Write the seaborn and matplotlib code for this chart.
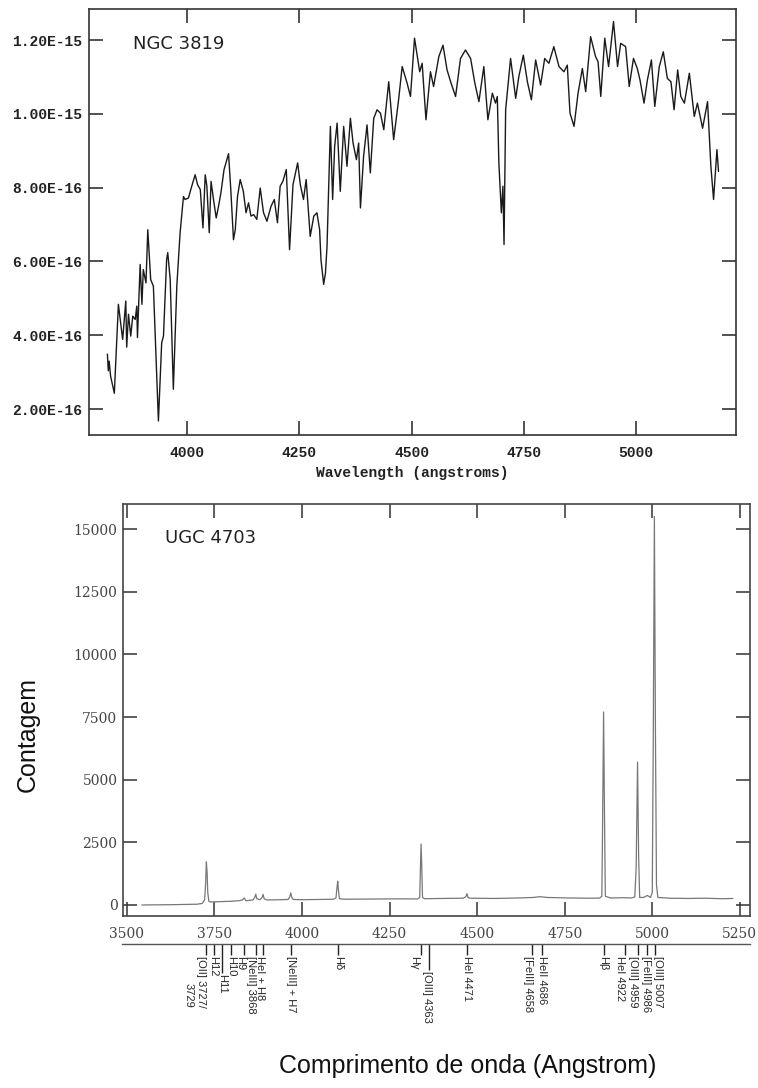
import numpy as np
import pandas as pd
import matplotlib
matplotlib.use('Agg')
import matplotlib.pyplot as plt
from matplotlib.ticker import FuncFormatter
import seaborn as sns

# --- data: NGC 3819 (flux in units of 1e-16) ---
ngc_wave = [3822, 3824, 3826, 3829, 3837.5, 3846.5, 3856, 3863, 3865, 3869, 3874, 3878.5,
            3884, 3887.5, 3889, 3895, 3899, 3902, 3908, 3912, 3918.5, 3924.5, 3935.7, 3943,
            3947, 3954, 3956.5, 3962, 3969, 3976.7, 3984, 3991.5, 3995, 4002.6, 4010, 4017.6,
            4023, 4029, 4035, 4040, 4043.7, 4049, 4053, 4058.5, 4064.5, 4069.6, 4075, 4082,
            4092, 4097, 4103, 4107, 4112, 4118, 4125, 4131, 4136.6, 4142, 4148, 4155, 4162.6,
            4170, 4177.6, 4186.5, 4194, 4201, 4207, 4213, 4220.7, 4228, 4235.6, 4246, 4252,
            4259, 4265, 4274, 4282, 4289, 4295, 4298, 4304, 4308, 4311.5, 4319, 4324, 4328.5,
            4334, 4341, 4348.6, 4356, 4363.6, 4369.5, 4377, 4382, 4386, 4393, 4400.7, 4408,
            4415.6, 4423, 4430.5, 4438, 4449, 4460, 4471, 4479, 4490, 4497.5, 4506.5, 4518,
            4523.5, 4532, 4542, 4549, 4560.7, 4570, 4579, 4588, 4598, 4609, 4620, 4631.5, 4641,
            4650, 4661, 4670, 4680, 4687, 4691, 4694.5, 4700, 4703.5, 4706, 4709.6, 4720.6,
            4732, 4739, 4749, 4758, 4767, 4776.5, 4787.5, 4796.6, 4806, 4817, 4828.5, 4839.5,
            4847, 4853, 4862, 4871, 4880.6, 4888, 4899, 4910, 4915.6, 4921.6, 4930.5, 4939,
            4950, 4959, 4966, 4977, 4985, 4994.5, 5003, 5009, 5018, 5025.6, 5034.5, 5042, 5052,
            5061, 5070, 5078, 5085, 5093, 5100, 5108, 5119, 5130, 5137, 5148.5, 5159.6, 5167,
            5173, 5180.5, 5184]
ngc_flux = [3.49, 3.04, 3.3, 2.9, 2.43, 4.84, 3.89, 4.93, 3.68, 4.57, 3.98, 4.52,
            4.43, 4.79, 3.94, 5.92, 4.84, 5.78, 5.42, 6.86, 5.51, 5.33, 1.68, 3.80,
            3.98, 6.05, 6.24, 5.51, 2.54, 5.33, 6.77, 7.76, 7.68, 7.72, 8.04, 8.35,
            8.08, 7.95, 6.91, 8.35, 8.04, 6.78, 8.17, 7.68, 7.18, 7.49, 7.86, 8.49,
            8.92, 7.95, 6.59, 6.86, 7.76, 8.22, 7.90, 7.32, 7.59, 7.23, 7.27, 7.14, 7.99,
            7.32, 7.09, 7.49, 7.68, 7.05, 8.04, 8.17, 8.49, 6.32, 8.08, 8.67, 8.08,
            7.68, 8.22, 6.68, 7.23, 7.32, 6.86, 6.05, 5.38, 5.69, 6.41, 9.66, 7.68, 9.12,
            9.75, 7.90, 9.66, 8.58, 9.88, 9.21, 8.76, 9.21, 7.45, 8.85, 9.70, 8.40,
            9.88, 10.11, 10.02, 9.57, 10.87, 9.30, 10.38, 11.28, 10.83, 10.47, 12.05, 11.14,
            11.37, 9.84, 11.14, 10.74, 11.55, 11.86, 11.19, 10.83, 10.47, 11.50, 11.73, 11.50, 10.83,
            10.33, 11.28, 9.84, 10.56, 10.29, 10.47, 8.67, 7.32, 8.04, 6.46, 10.11, 11.50,
            10.42, 11.01, 11.59, 10.87, 10.38, 11.46, 10.78, 11.50, 11.37, 11.82, 11.28, 11.14,
            11.32, 10.02, 9.66, 10.56, 11.23, 10.60, 12.09, 11.55, 11.41, 10.47, 12.05, 11.28,
            12.50, 11.28, 11.91, 11.82, 10.74, 11.50, 11.23, 10.92, 10.29, 10.92, 11.46, 10.20, 11.28,
            11.68, 10.96, 10.87, 10.11, 11.19, 10.47, 10.29, 11.10, 9.93, 10.29, 9.61, 10.33, 8.58,
            7.68, 9.03, 8.44]
ngc_yticks = [2, 4, 6, 8, 10, 12]
ngc_xticks = [4000, 4250, 4500, 4750, 5000]

# --- data: UGC 4703 (counts) ---
ugc_wave = [3543, 3580, 3620, 3660, 3700, 3715, 3722, 3725, 3727, 3729, 3731, 3734, 3740,
            3760, 3780, 3800, 3820, 3830, 3835, 3840, 3860, 3865, 3868, 3871, 3880, 3886,
            3889, 3892, 3900, 3940, 3960, 3965, 3968, 3971, 3975, 4000, 4050, 4090, 4097,
            4100, 4102, 4104, 4107, 4120, 4180, 4230, 4290, 4330, 4336, 4338, 4340, 4342,
            4344, 4350, 4400, 4460, 4468, 4471, 4474, 4480, 4550, 4620, 4660, 4680, 4700,
            4760, 4820, 4850, 4856, 4858, 4861, 4864, 4866, 4880, 4920, 4940, 4950, 4954,
            4958, 4961, 4964, 4975, 4986, 4995, 5000, 5003, 5006, 5009, 5012, 5016, 5050,
            5100, 5150, 5200, 5230]
ugc_counts = [0, 5, 10, 20, 30, 60, 200, 900, 1720, 1300, 500, 150, 120,
              130, 140, 150, 170, 200, 280, 170, 200, 300, 430, 250, 210, 300,
              420, 250, 200, 210, 220, 320, 480, 300, 220, 210, 220, 230, 280,
              700, 950, 600, 250, 230, 235, 240, 245, 240, 300, 1400, 2430, 1500,
              300, 250, 260, 270, 330, 450, 300, 270, 260, 280, 300, 330, 300,
              280, 270, 275, 350, 3000, 7700, 3000, 350, 280, 290, 280, 320, 1500,
              5700, 2000, 300, 300, 380, 300, 500, 7000, 15500, 7000, 800, 300, 270,
              260, 270, 250, 260]
ugc_yticks = [0, 2500, 5000, 7500, 10000, 12500, 15000]
ugc_xticks = [3500, 3750, 4000, 4250, 4500, 4750, 5000, 5250]

# emission line identifications
line_wave = [3727, 3750, 3771, 3798, 3835, 3868, 3889, 3968, 4102, 4340, 4363,
             4471, 4658, 4686, 4861, 4922, 4959, 4986, 5007]
line_names = ['[OII] 3727/\n3729', 'H12', 'H11', 'H10', 'H9', '[NeIII] 3868', 'HeI + H8',
              '[NeIII] + H7', 'Hδ', 'Hγ', '[OIII] 4363', 'HeI 4471', '[FeIII] 4658',
              'HeII 4686', 'Hβ', 'HeI 4922', '[OIII] 4959', '[FeIII] 4986', '[OIII] 5007']

# --- label strip layout: tick length (px) and text nudge (Angstrom) ---
tick_len = {'H11': 29, '[OIII] 4363': 26}
text_nudge = {'H12': -4, 'H9': -11, '[NeIII] 3868': -13, 'HeI + H8': -9, 'Hγ': -20,
              '[OIII] 4363': -6, '[FeIII] 4658': -14, 'HeI 4922': -14, '[OIII] 4959': -15,
              '[FeIII] 4986': -3, '[OIII] 5007': 8}

sns.set_style("ticks")

W, H = 758, 1088
fig = plt.figure(figsize=(W / 100, H / 100), dpi=100)

# ---------------- top panel ----------------
ax1 = fig.add_axes([89 / W, 1 - 435 / H, 647 / W, 426 / H])
ngc = pd.DataFrame({'wave': ngc_wave, 'flux': np.array(ngc_flux) * 1e-16})
sns.lineplot(data=ngc, x='wave', y='flux', ax=ax1, color='#1a1a1a', linewidth=1.0,
             estimator=None)
ax1.set_xlim(3781, 5223)
ax1.set_ylim(1.3e-16, 1.284e-15)
ax1.set_xticks(ngc_xticks)
ax1.set_yticks(np.array(ngc_yticks) * 1e-16)
ax1.yaxis.set_major_formatter(FuncFormatter(lambda v, p: f"{v:.2E}"))
ax1.tick_params(direction='in', length=10, width=1.1, top=True, right=True,
                color='#222222', labelsize=10.5, labelcolor='#222222')
ax1.tick_params(axis='x', pad=8)
ax1.tick_params(axis='y', pad=5)
for lab in ax1.get_xticklabels() + ax1.get_yticklabels():
    lab.set_family('Liberation Mono')
    lab.set_fontweight('bold')
ax1.set_xlabel('Wavelength (angstroms)', family='Liberation Mono', fontweight='bold',
               fontsize=10.5, color='#222222')
ax1.xaxis.set_label_coords(0.5, -0.072)
ax1.set_ylabel('')
for s in ax1.spines.values():
    s.set_linewidth(1.2)
    s.set_color('#333333')
ax1.text(0.068, 0.918, 'NGC 3819', transform=ax1.transAxes, fontsize=13,
         family='DejaVu Sans', va='center', ha='left', color='#222222')

# ---------------- bottom panel ----------------
ax2 = fig.add_axes([123 / W, 1 - 916 / H, 627 / W, 412 / H])
ugc = pd.DataFrame({'wave': ugc_wave, 'counts': ugc_counts})
sns.lineplot(data=ugc, x='wave', y='counts', ax=ax2, color='#777777', linewidth=0.9,
             estimator=None)
ax2.set_xlim(3489, 5279)
ax2.set_ylim(-440, 16000)
ax2.set_xticks(ugc_xticks)
ax2.set_yticks(ugc_yticks)
ax2.tick_params(direction='in', length=10, width=1.1, top=True, right=True,
                color='#333333', labelsize=10, labelcolor='#444444')
ax2.tick_params(axis='x', pad=8)
ax2.tick_params(axis='y', pad=4)
for lab in ax2.get_xticklabels() + ax2.get_yticklabels():
    lab.set_family('DejaVu Serif')
ax2.set_xlabel('')
ax2.set_ylabel('Contagem', family='Liberation Sans', fontsize=18, color='#111111')
ax2.yaxis.set_label_coords(-0.133, 0.44)
for s in ax2.spines.values():
    s.set_linewidth(1.2)
    s.set_color('#444444')
ax2.text(0.067, 0.917, 'UGC 4703', transform=ax2.transAxes, fontsize=13,
         family='DejaVu Sans', va='center', ha='left', color='#222222')

# ---------------- line identification strip ----------------
ax3 = fig.add_axes([122 / W, 1 - 1044 / H, 628 / W, 100 / H])
ax3.set_xlim(3489 - 1 / 0.3503, 5279)
ax3.set_ylim(100, 0)
for side in ['left', 'right', 'bottom']:
    ax3.spines[side].set_visible(False)
ax3.spines['top'].set_linewidth(1.0)
ax3.spines['top'].set_color('#555555')
ax3.set_xticks([])
ax3.set_yticks([])
ax3.patch.set_alpha(0)

for wl, name in zip(line_wave, line_names):
    tl = tick_len.get(name, 11)
    ax3.vlines(wl, 0, tl, color='#222222', linewidth=1.0)
    xt = wl + text_nudge.get(name, 0)
    if '\n' in name:
        ax3.text(xt, tl + 1, name, rotation=270, ha='right', va='top', fontsize=8,
                 family='Liberation Sans', multialignment='right', linespacing=1.3)
    else:
        ax3.text(xt, tl + 1, name, rotation=270, ha='center', va='top', fontsize=8,
                 family='Liberation Sans')

fig.text(468 / W, 1 - 1066 / H, 'Comprimento de onda (Angstrom)', ha='center', va='center',
         family='Liberation Sans', fontsize=18, color='#111111')

fig.savefig('out.png', dpi=100)
